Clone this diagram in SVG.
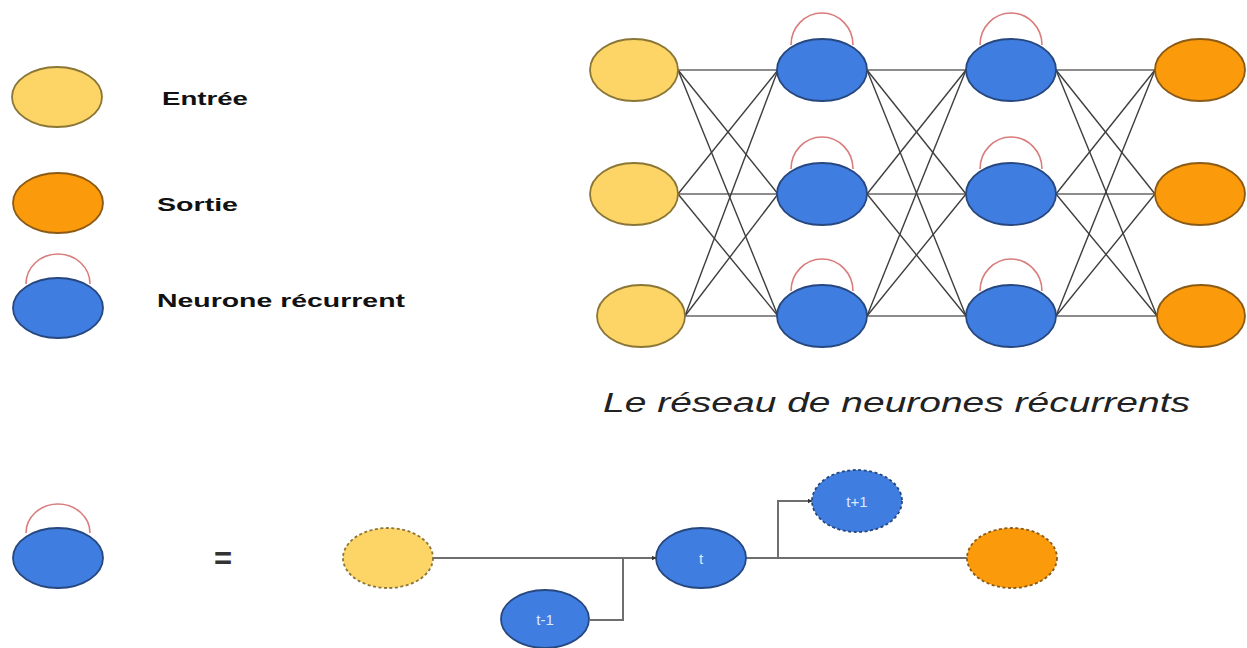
<svg xmlns="http://www.w3.org/2000/svg" width="1247" height="648" viewBox="0 0 1247 648">
<defs>
<style>
.in{fill:#FDD466;stroke:#8a7636;stroke-width:1.8}
.out{fill:#FB9A0B;stroke:#8a5a16;stroke-width:1.8}
.rn{fill:#3F7EE0;stroke:#27477f;stroke-width:1.8}
.dash{stroke-dasharray:3 2.5}
.loop{fill:none;stroke:#d97c7c;stroke-width:1.6}
.h{stroke:#8c8c8c;stroke-width:2;fill:none}
.d{stroke:#3e3e3e;stroke-width:1.4;fill:none}
.lbl{font-family:"Liberation Sans",Arial,sans-serif;font-weight:bold;font-size:19px;fill:#111}
.cap{font-family:"Liberation Sans",Arial,sans-serif;font-style:italic;font-size:27px;fill:#222}
.tl{font-family:"Liberation Sans",Arial,sans-serif;font-size:15px;fill:#dde9ff;text-anchor:middle}
.c{stroke:#6e6e6e;stroke-width:2;fill:none}
</style>
<marker id="ah" viewBox="0 0 10 10" refX="9" refY="5" markerWidth="5" markerHeight="5" orient="auto" markerUnits="userSpaceOnUse">
<path d="M0,0 L10,5 L0,10 z" fill="#333"/>
</marker>
</defs>
<rect width="1247" height="648" fill="#ffffff"/>

<!-- Legend -->
<g id="legend-entree">
<ellipse class="in" cx="57" cy="97" rx="45" ry="30"/>
<text class="lbl" x="162" y="105" textLength="86" lengthAdjust="spacingAndGlyphs">Entrée</text>
</g>
<g id="legend-sortie">
<ellipse class="out" cx="58" cy="203" rx="45" ry="30"/>
<text class="lbl" x="157" y="211" textLength="81" lengthAdjust="spacingAndGlyphs">Sortie</text>
</g>
<g id="legend-recurrent">
<path class="loop" d="M26,284 A32 30 0 0 1 90,284"/>
<ellipse class="rn" cx="58" cy="308" rx="45" ry="30"/>
<text class="lbl" x="157" y="307" textLength="248" lengthAdjust="spacingAndGlyphs">Neurone récurrent</text>
</g>

<!-- Network connectors -->
<g id="connectors">
<line class="h" x1="678" y1="70" x2="778" y2="70"/>
<line class="h" x1="678" y1="194" x2="778" y2="194"/>
<line class="h" x1="685" y1="316" x2="778" y2="316"/>
<line class="h" x1="867" y1="70" x2="966" y2="70"/>
<line class="h" x1="867" y1="194" x2="966" y2="194"/>
<line class="h" x1="867" y1="316" x2="966" y2="316"/>
<line class="h" x1="1056" y1="70" x2="1155" y2="70"/>
<line class="h" x1="1056" y1="194" x2="1155" y2="194"/>
<line class="h" x1="1056" y1="316" x2="1157" y2="316"/>
<line class="d" x1="678" y1="70" x2="778" y2="194"/>
<line class="d" x1="678" y1="70" x2="778" y2="316"/>
<line class="d" x1="678" y1="194" x2="778" y2="70"/>
<line class="d" x1="678" y1="194" x2="778" y2="316"/>
<line class="d" x1="685" y1="316" x2="778" y2="70"/>
<line class="d" x1="685" y1="316" x2="778" y2="194"/>
<line class="d" x1="867" y1="70" x2="966" y2="194"/>
<line class="d" x1="867" y1="70" x2="966" y2="316"/>
<line class="d" x1="867" y1="194" x2="966" y2="70"/>
<line class="d" x1="867" y1="194" x2="966" y2="316"/>
<line class="d" x1="867" y1="316" x2="966" y2="70"/>
<line class="d" x1="867" y1="316" x2="966" y2="194"/>
<line class="d" x1="1056" y1="70" x2="1155" y2="194"/>
<line class="d" x1="1056" y1="70" x2="1157" y2="316"/>
<line class="d" x1="1056" y1="194" x2="1155" y2="70"/>
<line class="d" x1="1056" y1="194" x2="1157" y2="316"/>
<line class="d" x1="1056" y1="316" x2="1155" y2="70"/>
<line class="d" x1="1056" y1="316" x2="1155" y2="194"/>
<line class="c" x1="433" y1="558" x2="656" y2="558" marker-end="url(#ah)"/>
<polyline class="c" points="590,620 623,620 623,558"/>
<line class="c" x1="746" y1="558" x2="967" y2="558"/>
<polyline class="c" points="778,558 778,501 812,501" marker-end="url(#ah)"/>
</g>

<!-- Network nodes -->
<g id="in1"><ellipse class="in" cx="634" cy="70" rx="44" ry="31"/></g>
<g id="in2"><ellipse class="in" cx="634" cy="194" rx="44" ry="31"/></g>
<g id="in3"><ellipse class="in" cx="641" cy="316" rx="44" ry="31"/></g>
<g id="h1a"><path class="loop" d="M791,45 A31 32 0 0 1 853,45"/><ellipse class="rn" cx="822" cy="70" rx="45" ry="31"/></g>
<g id="h1b"><path class="loop" d="M791,169 A31 32 0 0 1 853,169"/><ellipse class="rn" cx="822" cy="194" rx="45" ry="31"/></g>
<g id="h1c"><path class="loop" d="M791,291 A31 32 0 0 1 853,291"/><ellipse class="rn" cx="822" cy="316" rx="45" ry="31"/></g>
<g id="h2a"><path class="loop" d="M980,45 A31 32 0 0 1 1042,45"/><ellipse class="rn" cx="1011" cy="70" rx="45" ry="31"/></g>
<g id="h2b"><path class="loop" d="M980,169 A31 32 0 0 1 1042,169"/><ellipse class="rn" cx="1011" cy="194" rx="45" ry="31"/></g>
<g id="h2c"><path class="loop" d="M980,291 A31 32 0 0 1 1042,291"/><ellipse class="rn" cx="1011" cy="316" rx="45" ry="31"/></g>
<g id="out1"><ellipse class="out" cx="1200" cy="70" rx="45" ry="31"/></g>
<g id="out2"><ellipse class="out" cx="1200" cy="194" rx="45" ry="31"/></g>
<g id="out3"><ellipse class="out" cx="1201" cy="316" rx="44" ry="31"/></g>

<g id="caption">
<text class="cap" x="603" y="412" textLength="587" lengthAdjust="spacingAndGlyphs">Le réseau de neurones récurrents</text>
</g>

<!-- Unrolled view -->
<g id="rec-node">
<path class="loop" d="M26,533 A32 29 0 0 1 90,533"/>
<ellipse class="rn" cx="58" cy="558" rx="45" ry="30"/>
</g>
<g id="equals">
<text x="223" y="569" text-anchor="middle" font-family="Liberation Sans, Arial, sans-serif" font-weight="bold" font-size="31" fill="#333">=</text>
</g>
<g id="u-in"><ellipse class="in dash" cx="388" cy="558" rx="45" ry="30"/></g>
<g id="u-tm1"><ellipse class="rn" cx="545" cy="619" rx="44" ry="29"/><text class="tl" x="545" y="625">t-1</text></g>
<g id="u-t"><ellipse class="rn" cx="701" cy="558" rx="45" ry="30"/><text class="tl" x="701" y="564">t</text></g>
<g id="u-tp1"><ellipse class="rn dash" cx="857" cy="501" rx="45" ry="31"/><text class="tl" x="857" y="507">t+1</text></g>
<g id="u-out"><ellipse class="out dash" cx="1012" cy="558" rx="45" ry="30"/></g>
</svg>
